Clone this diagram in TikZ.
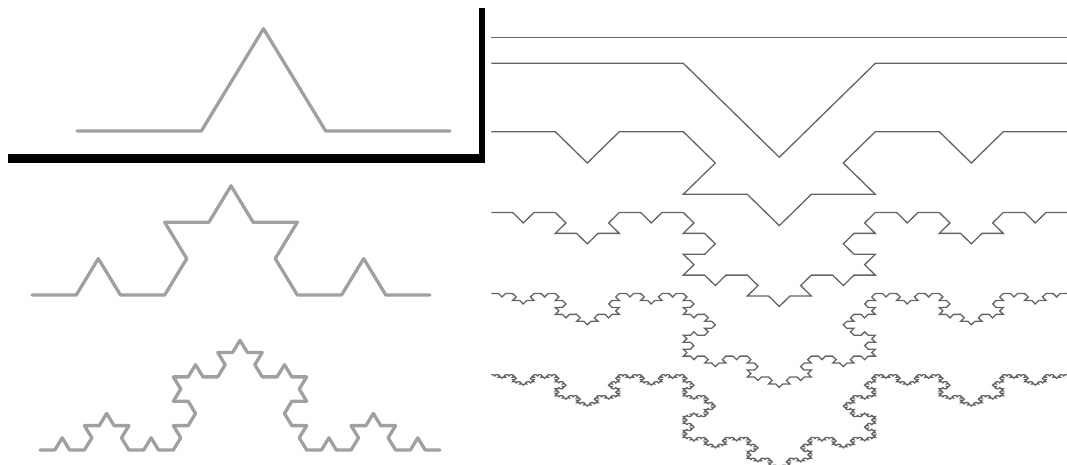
\documentclass[tikz,border=0pt]{standalone}
\definecolor{leftgray}{RGB}{160,160,160}
\definecolor{rightgray}{RGB}{100,100,100}
\tikzset{
  leftkoch/.style={draw=leftgray, line width=3.3pt, line join=round, line cap=round},
  rightkoch/.style={draw=rightgray, line width=1.3pt, line join=miter},
  frameline/.style={fill=black, draw=none}
}
\newcommand\kt[1]{((mod(div(\k,#1),4)==1)-(mod(div(\k,#1),4)==2))}
% #1 style, #2 x0, #3 y0, #4 step, #5 last index, #6 sign, #7 yscale
\newcommand\kochcurve[7]{%
  \begin{scope}[shift={(#2,#3)}, yscale=#7]
    \draw[#1] (0,0) \foreach \k [evaluate=\k as \a using {#6*60*(\kt{1}+\kt{4}+\kt{16}+\kt{64}+\kt{256})}] in {0,...,#5} { -- ++(\a:#4) };
  \end{scope}}
\begin{document}
\begin{tikzpicture}[x=1pt, y=-1pt]
\useasboundingbox (0,0) rectangle (1067,465);
\fill[white] (0,0) rectangle (1067,465);
\clip (0,0) rectangle (1067,465);
% right panel: Koch curve, levels 0-5
\draw[rightkoch] (491.3,37.3) -- (1067.3,37.3);
\kochcurve{rightkoch}{491.3}{63.3}{192}{3}{1}{0.565}
\kochcurve{rightkoch}{491.3}{131.7}{64}{15}{1}{0.565}
\kochcurve{rightkoch}{491.3}{212.5}{21.3333}{63}{1}{0.565}
\kochcurve{rightkoch}{491.3}{293.5}{7.1111}{255}{1}{0.565}
\kochcurve{rightkoch}{491.3}{374.8}{2.37037}{1023}{1}{0.565}
% left panel: Koch curve, levels 1-3
\kochcurve{leftkoch}{77}{131}{124.333}{3}{-1}{0.95}
\kochcurve{leftkoch}{32}{295}{44.222}{15}{-1}{0.95}
\kochcurve{leftkoch}{40}{450}{14.815}{63}{-1}{0.95}
% black frame
\fill[frameline] (8,154) rectangle (485,163);
\fill[frameline] (479,8) rectangle (485,163);
\end{tikzpicture}
\end{document}
